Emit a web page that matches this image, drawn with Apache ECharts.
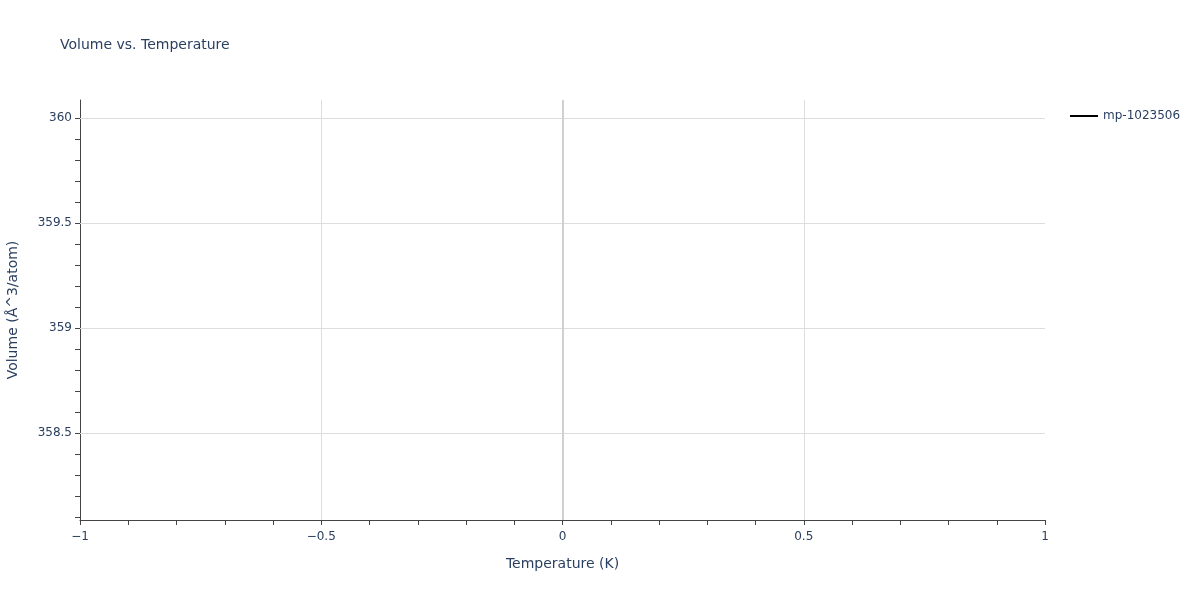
<!DOCTYPE html>
<html>
<head>
<meta charset="utf-8">
<script src="https://cdn.jsdelivr.net/npm/echarts@6/dist/echarts.min.js"></script>
<style>
  html, body { margin: 0; padding: 0; background: #fff; }
  #chart { width: 1200px; height: 600px; }
</style>
</head>
<body>
<div id="chart"></div>
<script>
// data: a single point, so the line has nothing to draw
const seriesName = 'mp-1023506'
const temps = [0]
const volumes = [359.086]

// axis ticks
const yMajorTicks = [358.5, 359, 359.5, 360]
const yMinorTicks = [358.1, 358.2, 358.3, 358.4, 358.5, 358.6, 358.7, 358.8, 358.9, 359,
  359.1, 359.2, 359.3, 359.4, 359.5, 359.6, 359.7, 359.8, 359.9, 360]
const yRange = [358.086, 360.086]
const xRange = [-1, 1]

const textColor = '#2a3f5f'
const axisColor = '#444'
const gridColor = '#dddddd'
const fontFamily = '"DejaVu Sans", Verdana, sans-serif'

function minus(v) {
  return String(v).replace('-', '\u2212')
}

const chart = echarts.init(document.getElementById('chart'))

chart.setOption({
  backgroundColor: '#fff',
  animation: false,
  textStyle: { fontFamily: fontFamily },
  title: {
    text: 'Volume vs. Temperature',
    left: 60,
    top: 38,
    padding: 0,
    textStyle: { color: textColor, fontSize: 14, fontWeight: 'normal', fontFamily: fontFamily }
  },
  legend: {
    data: [{ name: seriesName, icon: 'rect' }],
    left: 1070,
    top: 110,
    padding: 0,
    itemWidth: 28,
    itemHeight: 2,
    itemGap: 6,
    textStyle: { color: textColor, fontSize: 12, fontFamily: fontFamily }
  },
  grid: {
    left: 80,
    right: 155,
    top: 100,
    bottom: 80,
    outerBoundsMode: 'none'
  },
  xAxis: {
    type: 'value',
    min: xRange[0],
    max: xRange[1],
    interval: 0.5,
    name: 'Temperature (K)',
    nameLocation: 'middle',
    nameGap: 37,
    nameTextStyle: { color: textColor, fontSize: 14, fontFamily: fontFamily },
    axisLine: { show: true, onZero: false, lineStyle: { color: axisColor, width: 1 } },
    axisTick: { show: true, length: 5, lineStyle: { color: axisColor } },
    minorTick: { show: true, splitNumber: 5, length: 5, lineStyle: { color: axisColor } },
    axisLabel: {
      color: textColor,
      fontSize: 12,
      margin: 11,
      formatter: v => minus(v)
    },
    splitLine: {
      show: true,
      showMinLine: false,
      showMaxLine: false,
      lineStyle: { color: gridColor, width: 1 }
    }
  },
  yAxis: {
    type: 'value',
    min: yRange[0],
    max: yRange[1],
    name: 'Volume (\u00c5^3/atom)',
    nameLocation: 'middle',
    nameGap: 60,
    nameTextStyle: { color: textColor, fontSize: 14, fontFamily: fontFamily },
    axisLine: { show: true, onZero: false, lineStyle: { color: axisColor, width: 1 } },
    axisTick: {
      show: true,
      length: 5,
      customValues: yMinorTicks,
      lineStyle: { color: axisColor }
    },
    axisLabel: {
      color: textColor,
      fontSize: 12,
      margin: 8,
      customValues: yMajorTicks,
      formatter: v => minus(v)
    },
    splitLine: { show: false }
  },
  series: [{
    name: seriesName,
    type: 'line',
    symbol: 'none',
    showSymbol: false,
    color: '#000',
    lineStyle: { color: '#000', width: 2 },
    data: temps.map((t, i) => [t, volumes[i]]),
    markLine: {
      silent: true,
      symbol: 'none',
      label: { show: false },
      animation: false,
      data: yMajorTicks.map(v => ({ yAxis: v, lineStyle: { color: gridColor, width: 1, type: 'solid' } }))
        .concat([{ xAxis: 0, lineStyle: { color: '#d0d0d0', width: 2, type: 'solid' } }])
    }
  }]
})
</script>
</body>
</html>
